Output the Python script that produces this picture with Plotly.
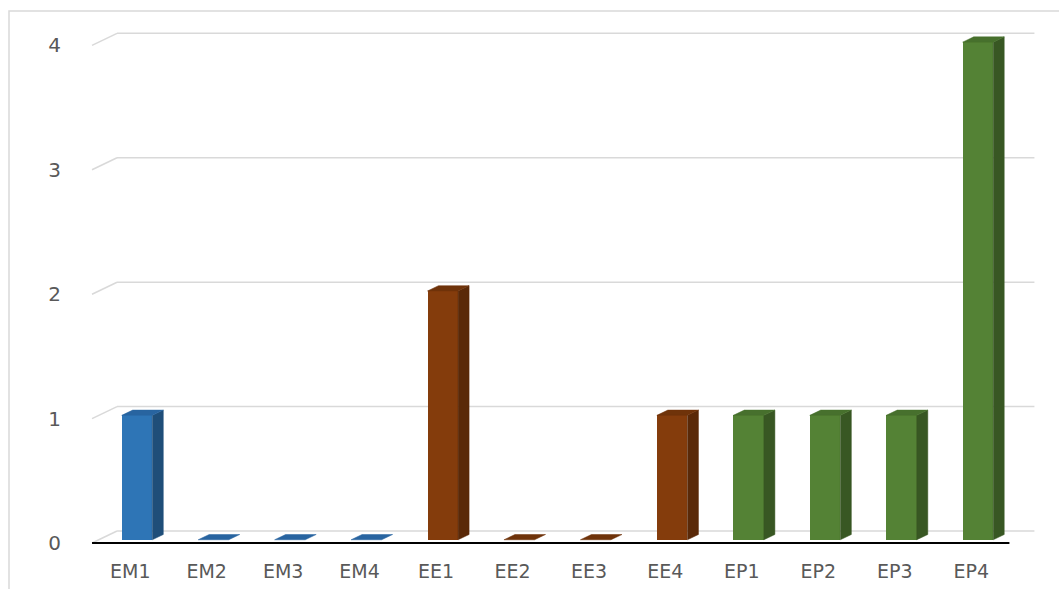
import plotly.graph_objects as go

# ---- data ----
categories = ["EM1", "EM2", "EM3", "EM4", "EE1", "EE2", "EE3", "EE4", "EP1", "EP2", "EP3", "EP4"]
values = [1, 0, 0, 0, 2, 0, 0, 1, 1, 1, 1, 4]
groups = ["EM", "EM", "EM", "EM", "EE", "EE", "EE", "EE", "EP", "EP", "EP", "EP"]
y_ticks = [0, 1, 2, 3, 4]
y_tick_text = ["0", "1", "2", "3", "4"]

# ---- styles ----
front_colors = {"EM": "#2e75b6", "EE": "#843c0c", "EP": "#548235"}
side_colors = {"EM": "#1f4e79", "EE": "#5a2908", "EP": "#385723"}
top_colors = {"EM": "#2864a0", "EE": "#6f330a", "EP": "#47702d"}
GRID = "#d9d9d9"
TEXT = "#595959"

# pseudo-3D projection: depth d in [0,1] shifts right and up
DX = 0.327
DY = 0.0965
D0, D1 = 0.27, 0.71
BW = 0.40


def P(x, y, d):
    return x + d * DX, y + d * DY


n = len(categories)
xs = list(range(n))

fig = go.Figure()

# front faces
fig.add_trace(go.Bar(
    x=[P(i, 0, D0)[0] for i in xs],
    y=values,
    base=D0 * DY,
    width=BW,
    marker=dict(color=[front_colors[g] for g in groups], line=dict(width=0)),
    hoverinfo="skip",
    showlegend=False,
))

# side and top faces
for grp in ["EM", "EE", "EP"]:
    sx, sy, tx, ty = [], [], [], []
    for i, v, g in zip(xs, values, groups):
        if g != grp:
            continue
        r = i + BW / 2
        l = i - BW / 2
        if v > 0:
            for (a, b, d) in [(r, 0, D0), (r, 0, D1), (r, v, D1), (r, v, D0), (r, 0, D0)]:
                px, py = P(a, b, d)
                sx.append(px); sy.append(py)
            sx.append(None); sy.append(None)
        for (a, b, d) in [(l, v, D0), (l, v, D1), (r, v, D1), (r, v, D0), (l, v, D0)]:
            px, py = P(a, b, d)
            tx.append(px); ty.append(py)
        tx.append(None); ty.append(None)
    if sx:
        fig.add_trace(go.Scatter(x=sx, y=sy, mode="lines", fill="toself",
                                 fillcolor=side_colors[grp],
                                 line=dict(color=side_colors[grp], width=0.5),
                                 hoverinfo="skip", showlegend=False))
    fig.add_trace(go.Scatter(x=tx, y=ty, mode="lines", fill="toself",
                             fillcolor=top_colors[grp],
                             line=dict(color=top_colors[grp], width=0.5),
                             hoverinfo="skip", showlegend=False))

# walls / gridlines
shapes = []
for v in y_ticks:
    x0, y0 = P(-0.5, v, 1)
    x1, y1 = P(n - 0.5, v, 1)
    shapes.append(dict(type="line", xref="x", yref="y", x0=x0, y0=y0, x1=x1, y1=y1,
                       line=dict(color=GRID, width=1.5), layer="below"))
    a0, b0 = P(-0.5, v, 0)
    shapes.append(dict(type="line", xref="x", yref="y", x0=a0, y0=b0, x1=x0, y1=y0,
                       line=dict(color=GRID, width=1.5), layer="below"))
# floor front edge
f0x, f0y = P(-0.5, 0, 0)
f1x, f1y = P(n - 0.5, 0, 0)
shapes.append(dict(type="line", xref="x", yref="y", x0=f0x, y0=f0y, x1=f1x, y1=f1y,
                   line=dict(color="#000000", width=2), layer="above"))
# chart area border
shapes.append(dict(type="rect", xref="paper", yref="paper",
                   x0=(9 - 90) / 950, x1=1.2, y0=-0.3, y1=(548 - 11) / 528,
                   line=dict(color=GRID, width=1.5), fillcolor="rgba(0,0,0,0)", layer="below"))

fig.update_layout(
    width=1059, height=589,
    margin=dict(l=90, r=19, t=20, b=41, autoexpand=False),
    paper_bgcolor="white", plot_bgcolor="white",
    shapes=shapes,
    bargap=0,
    font=dict(family="DejaVu Sans", color=TEXT),
    xaxis=dict(range=[-0.5265, 11.90], tickvals=xs, ticktext=categories,
               showgrid=False, zeroline=False, showline=False, ticks="",
               automargin=False,
               tickfont=dict(size=19, color=TEXT), ticklabelstandoff=10),
    yaxis=dict(range=[-0.040, 4.204], tickvals=y_ticks, ticktext=y_tick_text,
               showgrid=False, zeroline=False, showline=False, ticks="",
               automargin=False,
               tickfont=dict(size=20, color=TEXT), ticklabelstandoff=28),
)

fig.write_html("out.html")
